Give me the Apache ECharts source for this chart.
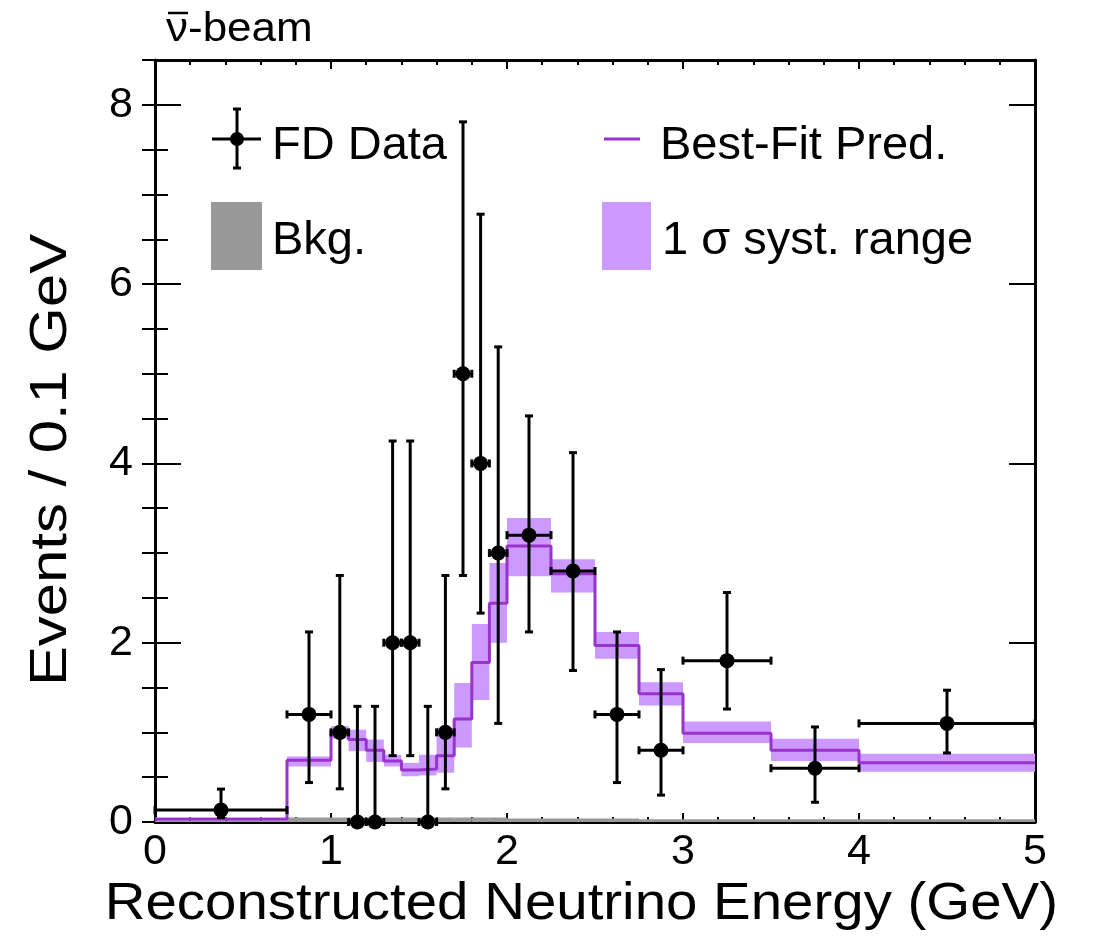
<!DOCTYPE html>
<html>
<head>
<meta charset="utf-8">
<script src="https://cdn.jsdelivr.net/npm/echarts@6/dist/echarts.min.js"></script>
<style>
html,body{margin:0;padding:0;background:#fff;}
#chart{width:1094px;height:938px;}
</style>
</head>
<body>
<div id="chart"></div>
<script>
// ---- Data ----
const binEdges   = [0, 0.75, 1.0, 1.1, 1.2, 1.3, 1.4, 1.5, 1.6, 1.7, 1.8, 1.9, 2.0, 2.25, 2.5, 2.75, 3.0, 3.5, 4.0, 5.0];
const predValues = [0.03, 0.69, 1.02, 0.92, 0.80, 0.68, 0.58, 0.59, 0.74, 1.15, 1.78, 2.44, 3.08, 2.77, 1.97, 1.43, 0.99, 0.80, 0.66];
const systLow    = [0.02, 0.62, 0.93, 0.79, 0.67, 0.62, 0.51, 0.52, 0.55, 0.83, 1.36, 2.00, 2.74, 2.56, 1.82, 1.30, 0.88, 0.68, 0.56];
const systHigh   = [0.05, 0.73, 1.07, 1.03, 0.92, 0.75, 0.66, 0.75, 1.05, 1.55, 2.21, 2.89, 3.39, 2.93, 2.12, 1.56, 1.12, 0.93, 0.76];
const bkgValues  = [0.01, 0.05, 0.05, 0.05, 0.05, 0.05, 0.05, 0.05, 0.05, 0.05, 0.05, 0.05, 0.04, 0.04, 0.04, 0.03, 0.03, 0.03, 0.03];

const dataX     = [0.375, 0.875, 1.05, 1.15, 1.25, 1.35, 1.45, 1.55, 1.65, 1.75, 1.85, 1.95, 2.125, 2.375, 2.625, 2.875, 3.25, 3.75, 4.5];
const dataXErr  = [0.375, 0.125, 0.05, 0.05, 0.05, 0.05, 0.05, 0.05, 0.05, 0.05, 0.05, 0.05, 0.125, 0.125, 0.125, 0.125, 0.25, 0.25, 0.5];
const dataY     = [0.133, 1.2, 1.0, 0, 0, 2, 2, 0, 1, 5, 4, 3, 3.2, 2.8, 1.2, 0.8, 1.8, 0.6, 1.1];
const dataYLow  = [0.049, 0.44, 0.37, 0, 0, 0.74, 0.74, 0, 0.37, 2.75, 2.33, 1.10, 2.12, 1.69, 0.44, 0.30, 1.26, 0.22, 0.77];
const dataYHigh = [0.367, 2.12, 2.75, 1.29, 1.29, 4.25, 4.25, 1.29, 2.75, 7.81, 6.78, 5.30, 4.53, 4.12, 2.12, 1.70, 2.56, 1.06, 1.47];

const xTicks = [0, 1, 2, 3, 4, 5];
const yTicks = [0, 2, 4, 6, 8];

// ---- Styles ----
const FONT = '"Liberation Sans", Arial, Helvetica, sans-serif';
const LINE_COLOR = '#9933cc';
const BAND_COLOR = '#cc99ff';
const BKG_COLOR = '#999999';

// ---- Build series data ----
const binData = [];
for (let i = 0; i < predValues.length; i++) {
  binData.push([binEdges[i], binEdges[i + 1], systLow[i], systHigh[i], bkgValues[i]]);
}
const stepData = [];
for (let i = 0; i < predValues.length; i++) {
  stepData.push([binEdges[i], predValues[i]]);
  stepData.push([binEdges[i + 1], predValues[i]]);
}
const pointData = dataX.map((x, i) => [x, dataY[i], dataXErr[i], dataYLow[i], dataYHigh[i]]);

function rectItem(api, x0, x1, y0, y1, color) {
  const p0 = api.coord([x0, y1]);
  const p1 = api.coord([x1, y0]);
  return { type: 'rect', shape: { x: p0[0], y: p0[1], width: p1[0] - p0[0], height: p1[1] - p0[1] }, style: { fill: color } };
}

const chart = echarts.init(document.getElementById('chart'), null, { renderer: 'canvas' });

const axisLineStyle = { show: true, onZero: false, lineStyle: { color: '#000', width: 3 } };

const option = {
  animation: false,
  backgroundColor: '#fff',
  grid: { left: 155, top: 60, width: 880, height: 762, containLabel: false },
  xAxis: [
    {
      type: 'value', min: 0, max: 5, interval: 1, position: 'bottom',
      axisLine: axisLineStyle,
      axisTick: { show: true, inside: true, length: 9, lineStyle: { color: '#000', width: 2 } },
      minorTick: { show: true, splitNumber: 5, length: 5, lineStyle: { color: '#000', width: 2 } },
      axisLabel: { show: true, fontSize: 43, color: '#000', fontFamily: FONT, margin: 9,
        formatter: v => (xTicks.indexOf(v) >= 0 ? String(v) : '') },
      splitLine: { show: false }, minorSplitLine: { show: false }
    },
    {
      type: 'value', min: 0, max: 5, interval: 1, position: 'top',
      axisLine: axisLineStyle,
      axisTick: { show: true, inside: true, length: 9, lineStyle: { color: '#000', width: 2 } },
      minorTick: { show: true, splitNumber: 5, length: 5, lineStyle: { color: '#000', width: 2 } },
      axisLabel: { show: false }, splitLine: { show: false }
    }
  ],
  yAxis: [
    {
      type: 'value', min: 0, max: 8.5, interval: 2, position: 'left',
      axisLine: axisLineStyle,
      axisTick: { show: true, inside: true, length: 26, lineStyle: { color: '#000', width: 2 } },
      axisLabel: { show: true, fontSize: 43, color: '#000', fontFamily: FONT, margin: 22,
        formatter: v => (yTicks.indexOf(v) >= 0 ? String(v) : '') },
      splitLine: { show: false }
    },
    {
      type: 'value', min: 0, max: 8.5, interval: 0.5, position: 'left',
      axisLine: { show: false },
      axisTick: { show: true, inside: true, length: 13, lineStyle: { color: '#000', width: 2 } },
      axisLabel: { show: false }, splitLine: { show: false }
    },
    {
      type: 'value', min: 0, max: 8.5, interval: 2, position: 'right',
      axisLine: axisLineStyle,
      axisTick: { show: true, inside: true, length: 26, lineStyle: { color: '#000', width: 2 } },
      axisLabel: { show: false }, splitLine: { show: false }
    },
    {
      type: 'value', min: 0, max: 8.5, interval: 0.5, position: 'right',
      axisLine: { show: false },
      axisTick: { show: true, inside: true, length: 13, lineStyle: { color: '#000', width: 2 } },
      axisLabel: { show: false }, splitLine: { show: false }
    }
  ],
  series: [
    {
      name: '1 σ syst. range', type: 'custom', data: binData, z: 2, clip: true,
      renderItem: (params, api) => rectItem(api, api.value(0), api.value(1), api.value(2), api.value(3), BAND_COLOR)
    },
    {
      name: 'Bkg.', type: 'custom', data: binData, z: 3, clip: true,
      renderItem: (params, api) => rectItem(api, api.value(0), api.value(1), 0, api.value(4), BKG_COLOR)
    },
    {
      name: 'Best-Fit Pred.', type: 'line', data: stepData, z: 4, showSymbol: false, symbol: 'none',
      lineStyle: { color: LINE_COLOR, width: 3 }, clip: true
    },
    {
      name: 'FD Data', type: 'custom', data: pointData, z: 10, clip: false,
      renderItem: (params, api) => {
        const x = api.value(0), y = api.value(1), xe = api.value(2), ylo = api.value(3), yhi = api.value(4);
        const c = api.coord([x, y]);
        const l = api.coord([x - xe, y]);
        const r = api.coord([x + xe, y]);
        const t = api.coord([x, yhi]);
        const b = api.coord([x, ylo]);
        const ls = { stroke: '#000', lineWidth: 3 };
        const cap = 4;
        const ch = [];
        ch.push({ type: 'line', shape: { x1: l[0], y1: c[1], x2: r[0], y2: c[1] }, style: ls });
        ch.push({ type: 'line', shape: { x1: l[0], y1: c[1] - cap, x2: l[0], y2: c[1] + cap }, style: ls });
        ch.push({ type: 'line', shape: { x1: r[0], y1: c[1] - cap, x2: r[0], y2: c[1] + cap }, style: ls });
        if (yhi > y) {
          ch.push({ type: 'line', shape: { x1: c[0], y1: c[1], x2: c[0], y2: t[1] }, style: ls });
          ch.push({ type: 'line', shape: { x1: c[0] - cap, y1: t[1], x2: c[0] + cap, y2: t[1] }, style: ls });
        }
        if (ylo < y) {
          ch.push({ type: 'line', shape: { x1: c[0], y1: c[1], x2: c[0], y2: b[1] }, style: ls });
          ch.push({ type: 'line', shape: { x1: c[0] - cap, y1: b[1], x2: c[0] + cap, y2: b[1] }, style: ls });
        }
        ch.push({ type: 'circle', shape: { cx: c[0], cy: c[1], r: 7.5 }, style: { fill: '#000' } });
        return { type: 'group', children: ch };
      }
    }
  ],
  graphic: [
    // title: nu with an overbar, then "-beam"
    { type: 'text', x: 166, y: 30, scaleX: 1.1, style: { text: 'ν-beam', font: '40px ' + FONT, fill: '#000', verticalAlign: 'middle' } },
    { type: 'line', shape: { x1: 168, y1: 13, x2: 188, y2: 13 }, style: { stroke: '#000', lineWidth: 2.5 } },
    // axis titles
    { type: 'text', x: 1058, y: 905, scaleX: 1.085, style: { text: 'Reconstructed Neutrino Energy (GeV)', font: '52px ' + FONT, fill: '#000', align: 'right', verticalAlign: 'middle' } },
    { type: 'text', x: 52, y: 460, rotation: Math.PI / 2, scaleX: 1.15, style: { text: 'Events / 0.1 GeV', font: '52px ' + FONT, fill: '#000', align: 'center', verticalAlign: 'middle' } },
    // legend: FD Data
    { type: 'line', shape: { x1: 212, y1: 139, x2: 261, y2: 139 }, style: { stroke: '#000', lineWidth: 3 } },
    { type: 'line', shape: { x1: 237, y1: 109, x2: 237, y2: 168 }, style: { stroke: '#000', lineWidth: 3 } },
    { type: 'line', shape: { x1: 233, y1: 109, x2: 241, y2: 109 }, style: { stroke: '#000', lineWidth: 3 } },
    { type: 'line', shape: { x1: 233, y1: 168, x2: 241, y2: 168 }, style: { stroke: '#000', lineWidth: 3 } },
    { type: 'circle', shape: { cx: 237, cy: 139, r: 7 }, style: { fill: '#000' } },
    { type: 'text', x: 272, y: 146, style: { text: 'FD Data', font: '47px ' + FONT, fill: '#000', verticalAlign: 'middle' } },
    // legend: Best-Fit
    { type: 'line', shape: { x1: 604, y1: 139, x2: 640, y2: 139 }, style: { stroke: LINE_COLOR, lineWidth: 3 } },
    { type: 'text', x: 660, y: 146, style: { text: 'Best-Fit Pred.', font: '47px ' + FONT, fill: '#000', verticalAlign: 'middle' } },
    // legend: Bkg
    { type: 'rect', shape: { x: 211, y: 202, width: 51, height: 68 }, style: { fill: BKG_COLOR } },
    { type: 'text', x: 272, y: 241, style: { text: 'Bkg.', font: '47px ' + FONT, fill: '#000', verticalAlign: 'middle' } },
    // legend: syst band
    { type: 'rect', shape: { x: 602, y: 202, width: 49, height: 68 }, style: { fill: BAND_COLOR } },
    { type: 'text', x: 662, y: 241, style: { text: '1 σ syst. range', font: '47px ' + FONT, fill: '#000', verticalAlign: 'middle' } }
  ]
};
chart.setOption(option);
</script>
</body>
</html>
